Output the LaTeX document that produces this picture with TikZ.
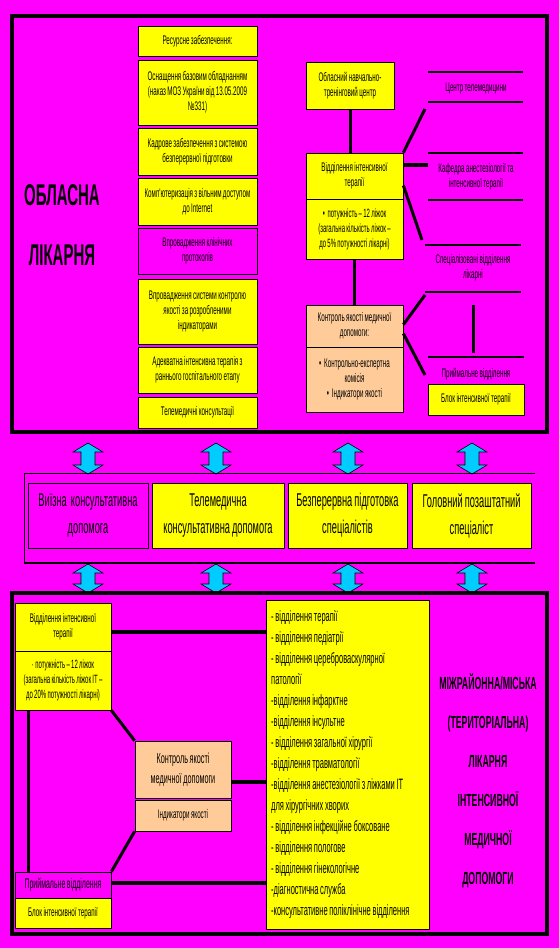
\documentclass[tikz,border=0pt]{standalone}
\usepackage{fontspec}
\setmainfont{Liberation Sans}
\newfontfamily\nr[FakeStretch=0.5,WordSpace=0.85]{Liberation Sans}
\newfontfamily\nrt[FakeStretch=0.5,WordSpace=0.8]{Liberation Sans}
\usetikzlibrary{shadows}
\definecolor{mag}{HTML}{FF00FF}
\definecolor{yel}{HTML}{FFFF00}
\definecolor{pch}{HTML}{FFCC99}
\definecolor{cya}{HTML}{00CCFF}
\newcommand\bx[7]{%
 \pgfmathsetmacro\bxcx{(#2+#4)/2}%
 \pgfmathsetmacro\bxcy{(#3+#5)/2}%
 \pgfmathsetmacro\bxw{#4-#2}%
 \pgfmathsetmacro\bxh{#5-#3}%
 \pgfmathsetmacro\bxtw{#4-#2-2}%
 \node[#6, minimum width=\bxw pt, minimum height=\bxh pt, text width=\bxtw pt] (#1) at (\bxcx,\bxcy) {#7};}
\newcommand\dar[4]{%
 \path[arrowshape] (#2,#3) -- (#2+15,#3+9) -- (#2+7,#3+9) -- (#2+7,#4-9) -- (#2+15,#4-9) -- (#2,#4)
  -- (#2-15,#4-9) -- (#2-7,#4-9) -- (#2-7,#3+9) -- (#2-15,#3+9) -- cycle;
 \coordinate (#1) at (#2,{(#3+#4)/2});}
\tikzset{
 box/.style={draw=black, line width=0.8pt, inner sep=0pt, align=flush center,
   font=\nr\fontsize{12.5}{15}\selectfont},
 ybox/.style={box, fill=yel},
 pbox/.style={box, fill=pch},
 mbox/.style={box, fill=mag},
 shad/.style={drop shadow={shadow xshift=1.3pt, shadow yshift=-1.3pt, fill=black, opacity=1}},
 big/.style={font=\nr\fontsize{18.5}{27}\selectfont},
 mid/.style={font=\nr\fontsize{14.5}{20}\selectfont},
 frame/.style={draw=black, line width=3.2pt},
 conn/.style={draw=black, line width=3pt},
 thinl/.style={draw=black, line width=1.1pt},
 lbl/.style={inner sep=0pt, align=center, font=\nr\fontsize{12.5}{15}\selectfont},
 title/.style={inner sep=0pt, align=center, font=\nrt\bfseries\fontsize{30}{60}\selectfont},
 title2/.style={inner sep=0pt, align=center, font=\nrt\bfseries\fontsize{17.5}{39}\selectfont},
 arrowshape/.style={fill=cya, draw=black, line width=0.6pt},
}
\begin{document}
\begin{tikzpicture}[x=1pt,y=-1pt]
\fill[mag] (0,0) rectangle (559,948);
\useasboundingbox (0,0) rectangle (559,948);

% ---------- top frame ----------
\draw[frame] (12,16) rectangle (547,432);
\node[title] (tobl) at (62,225) {ОБЛАСНА\\ЛІКАРНЯ};

% left column
\bx{r1}{138}{26}{257}{56}{ybox,shad}{Ресурсне забезпечення:}
\bx{r2}{138}{60}{257}{125}{ybox,shad}{Оснащення базовим обладнанням\\(наказ МОЗ України від 13.05.2009\\№331)}
\bx{r3}{138}{128}{257}{175}{ybox,shad}{Кадрове забезпечення з системою\\безперервної підготовки}
\bx{r4}{138}{178}{257}{225}{ybox,shad}{Комп'ютеризація з вільним доступом\\до Internet}
\bx{r5}{138}{228}{257}{274}{mbox,shad}{Впровадження клінічних\\протоколів}
\bx{r6}{138}{279}{257}{344}{ybox,shad}{Впровадження системи контролю\\якості за розробленими\\індикаторами}
\bx{r7}{138}{347}{257}{393}{ybox,shad}{Адекватна інтенсивна терапія з\\раннього госпітального етапу}
\bx{r8}{138}{397}{257}{428}{ybox,shad}{Телемедичні консультації}

% right column
\bx{ntc}{306}{62}{394}{109}{ybox}{Обласний навчально-\\тренінговий центр}
\bx{vit}{306}{153}{403}{199}{ybox}{Відділення інтенсивної\\терапії}
\bx{vitb}{306}{199}{403}{259}{ybox,font=\nr\fontsize{12}{15}\selectfont}{•\ \ потужність – 12 ліжок\\(загальна кількість ліжок –\\до 5\% потужності лікарні)}
\bx{kya}{306}{305}{403}{347}{pbox}{Контроль якості медичної\\допомоги:}
\bx{kyab}{306}{347}{403}{412}{pbox}{•\ \ Контрольно-експертна\\комісія\\•\ \ Індикатори якості}
\draw[conn] (ntc.south) -- (vit.north -| ntc.south);
\draw[conn] (vitb.south) -- (kya.north);

\node[lbl] (ctm) at (476,88) {Центр телемедицини};
\draw[thinl] (428,72) -- (523,72);
\draw[thinl] (428,102) -- (523,102);
\node[lbl] (kaf) at (476,177) {Кафедра анестезіології та\\інтенсивної терапії};
\draw[thinl] (428,153) -- (523,153);
\draw[thinl] (428,200) -- (523,200);
\node[lbl] (spec) at (473,268) {Спеціалізовані відділення\\лікарні};
\draw[thinl] (425,245) -- (521,245);
\draw[thinl] (425,292) -- (521,292);
\node[lbl] (prm) at (476,374) {Приймальне відділення};
\draw[thinl] (428,357) -- (524,357);
\bx{blk}{428}{384}{524}{415}{ybox}{Блок інтенсивної терапії}
\coordinate (specB) at (473,305);
\coordinate (prmT) at (473,353);
\draw[conn] (specB) -- (prmT);

\coordinate (ctmA) at (425,109);
\coordinate (kafA) at (428,165);
\coordinate (specA) at (422,240);
\coordinate (specC) at (425,295);
\coordinate (prmA) at (425,375);
\draw[conn] (vit.north east) -- (ctmA);
\draw[conn, line width=4pt] (vit.east |- kafA) -- (kafA);
\draw[conn] ([yshift=-33pt]vit.north east) -- (specA);
\draw[conn] ([yshift=-20pt]kya.north east) -- (specC);
\draw[conn] ([yshift=-29pt]kya.north east) -- (prmA);

% ---------- arrows ----------
\dar{a1}{88}{443}{474}
\dar{a2}{216}{443}{474}
\dar{a3}{348}{443}{474}
\dar{a4}{472}{443}{474}
\dar{b1}{88}{564}{593}
\dar{b2}{216}{564}{593}
\dar{b3}{348}{564}{593}
\dar{b4}{472}{564}{593}

% ---------- middle band ----------
\draw[black, line width=1pt] (535,473) -- (24,473) -- (24,563);
\draw[black, line width=2.5pt] (23.5,563) -- (535,563);
\bx{m1}{28}{483}{148}{548}{mbox,shad,big}{Виїзна\ \ консультативна\\допомога}
\bx{m2}{152}{483}{284}{548}{ybox,shad,big}{Телемедична\\консультативна допомога}
\bx{m3}{288}{483}{407}{548}{ybox,shad,big}{Безперервна підготовка\\спеціалістів}
\bx{m4}{412}{483}{531}{548}{ybox,shad,big}{Головний позаштатний\\спеціаліст}

% ---------- bottom frame ----------
\draw[frame] (12,593) rectangle (547,934);
\bx{bvit}{15}{603}{111}{651}{ybox}{Відділення інтенсивної\\терапії}
\bx{bvitb}{15}{651}{111}{710}{ybox,font=\nr\fontsize{12}{15}\selectfont}{· потужність – 12 ліжок\\(загальна кількість ліжок ІТ –\\до 20\% потужності лікарні)}
\bx{bprm}{15}{872}{111}{898}{mbox,font=\nr\fontsize{14}{15}\selectfont}{Приймальне відділення}
\bx{bblk}{15}{898}{111}{928}{ybox}{Блок інтенсивної терапії}
\bx{bkya}{135}{741}{231}{798}{pbox,mid}{Контроль якості\\медичної допомоги}
\bx{bkyab}{135}{800}{231}{831}{pbox}{Індикатори якості}
\bx{list}{266}{600}{429}{929}{ybox}{}
\node[anchor=north west, inner sep=0pt, text width=158pt, align=flush left,
      font=\nr\fontsize{15}{21}\selectfont] (listt) at (271,610)
 {- відділення терапії\\
  - відділення педіатрії\\
  - відділення цереброваскулярної\\
  патології\\
  -відділення інфарктне\\
  -відділення інсультне\\
  - відділення загальної хірургії\\
  -відділення травматології\\
  -відділення анестезіології з ліжками ІТ\\
  для хірургічних хворих\\
  - відділення інфекційне боксоване\\
  - відділення пологове\\
  - відділення гінекологічне\\
  -діагностична служба\\
  -консультативне поліклінічне відділення};
\node[title2] (tmiz) at (488,781) {МІЖРАЙОННА/МІСЬКА\\(ТЕРИТОРІАЛЬНА)\\ЛІКАРНЯ\\ІНТЕНСИВНОЇ\\МЕДИЧНОЇ\\ДОПОМОГИ};

\draw[conn] (bvitb.south -| 28,0) -- (bprm.north -| 28,0);
\draw[conn, line width=4pt] (bvit.east |- 0,632) -- (list.west |- 0,632);
\draw[conn, line width=4pt] (bkya.east |- 0,782) -- (list.west |- 0,782);
\draw[conn, line width=4pt] (bprm.east |- 0,883) -- (list.west |- 0,883);
\draw[conn] (bvitb.south east) -- (bkya.north west);
\draw[conn] (bkyab.south west) -- (bprm.north east);
\end{tikzpicture}
\end{document}
